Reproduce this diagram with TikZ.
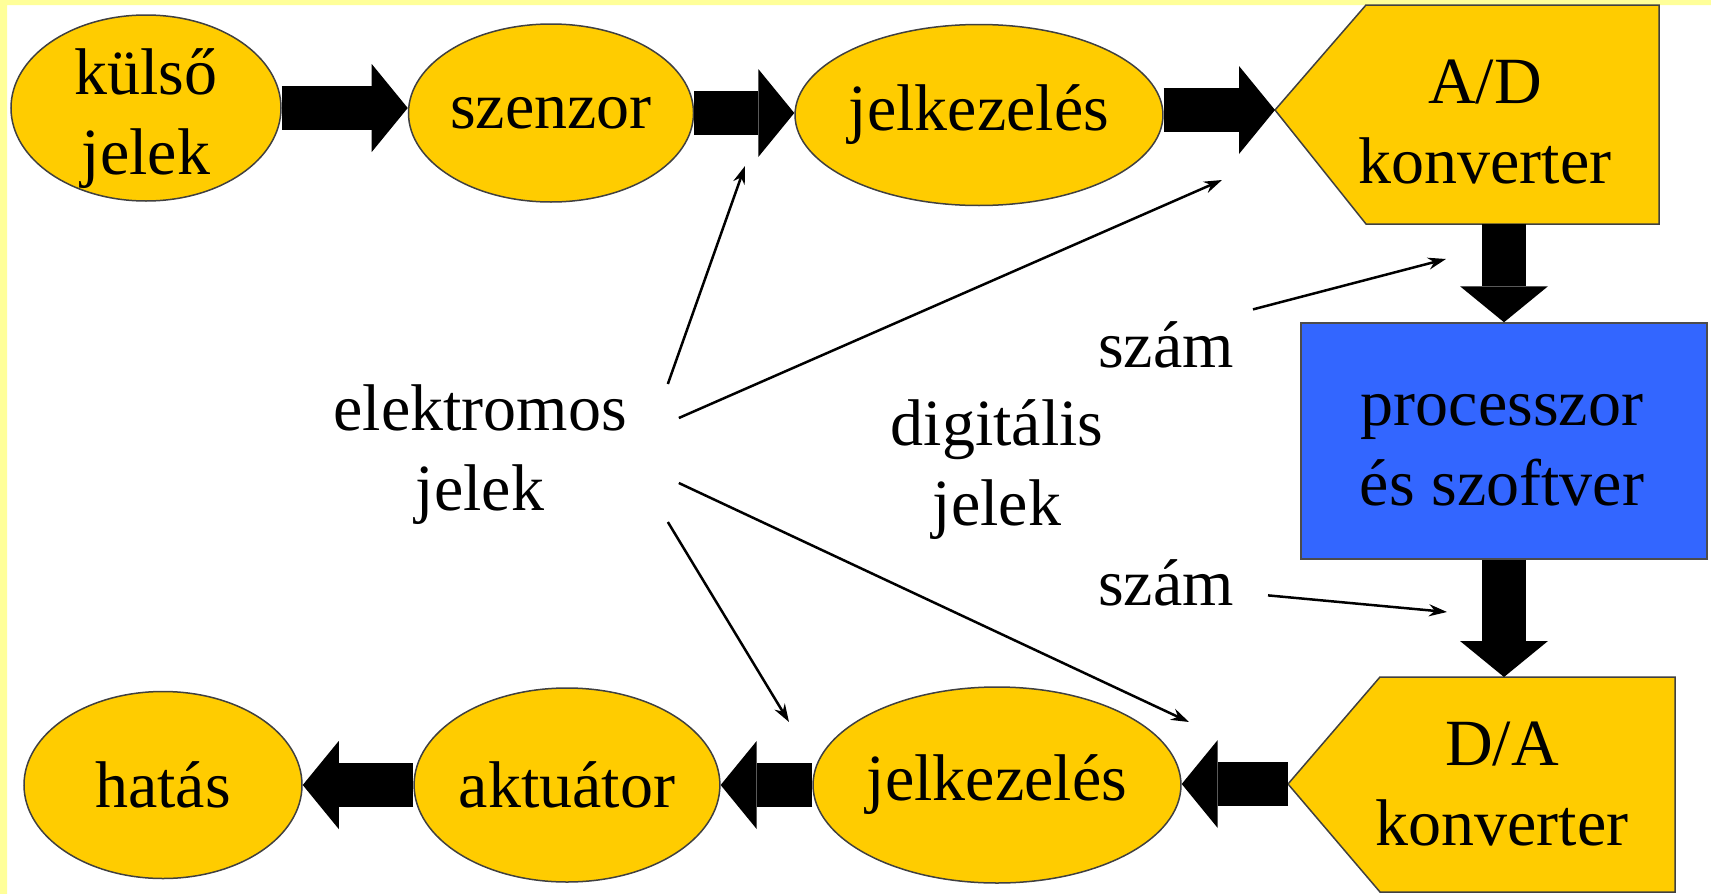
\documentclass[tikz,border=0pt]{standalone}
\usepackage{fontspec}
\setmainfont{Liberation Serif}
\usepackage{xcolor}
\usepackage{tikz}
\usetikzlibrary{arrows.meta,shapes.geometric}
\definecolor{gold}{HTML}{FFCC00}
\definecolor{procblue}{HTML}{3366FF}
\definecolor{frameyellow}{HTML}{FFFF99}

\begin{document}
\begin{tikzpicture}[x=1pt,y=-1pt,
  every node/.style={font=\fontsize{66}{80}\selectfont},
  blob/.style={ellipse,draw=black!75,line width=1.5pt,fill=gold,inner sep=0pt,align=center},
  conv/.style={draw=black!75,line width=1.5pt,fill=gold},
  txt/.style={inner sep=0pt,align=center},
  fat/.style={line width=44pt,-{Triangle[length=36pt,width=88pt,line width=0pt]}},
  thin/.style={line width=2.5pt,-{Stealth[length=18pt,width=12pt]}}]
  \useasboundingbox (0,0) rectangle (1711,894);
  \fill[white] (0,0) rectangle (1711,894);
  \fill[frameyellow] (0,0) rectangle (7,894) (0,0) rectangle (1711,5);

  % converters
  \draw[conv] (1275,110) -- (1366,5) -- (1659,5) -- (1659,224) -- (1366,224) -- cycle;
  \draw[conv] (1288,784) -- (1380,677) -- (1675,677) -- (1675,892) -- (1380,892) -- cycle;
  \coordinate (adtip) at (1275,110); \coordinate (adbot) at (1504,224);
  \coordinate (datip) at (1288,784); \coordinate (datop) at (1504,677);
  \node[txt] (ad) at (1485,122) {A/D\\konverter};
  \node[txt] (da) at (1502,784) {D/A\\konverter};
  \node[rectangle,draw=black!70,line width=1.5pt,fill=procblue,
    minimum width=406pt,minimum height=236pt] (proc) at (1504,441) {};
  \node[txt] (proctxt) at (1502,450) {processzor\\és szoftver};

  % input chain
  \node[blob,minimum width=270pt,minimum height=186pt] (kulso) at (146,108) {};
  \node[txt] (kulsotxt) at (146,119) {külső\\jelek};
  \node[blob,minimum width=260pt,minimum height=178pt] (szenzor) at (551,113) {szenzor};
  \node[blob,minimum width=322pt,minimum height=181pt] (jelk1) at (979,115) {jelkezelés};

  % output chain
  \node[blob,minimum width=278pt,minimum height=187pt] (hatas) at (163,785) {hatás};
  \node[blob,minimum width=256pt,minimum height=194pt] (aktuator) at (567,785) {aktuátor};
  \node[blob,minimum width=320pt,minimum height=196pt] (jelk2) at (997,785) {jelkezelés};

  \draw[fat] (kulso.east) -- (kulso.east -| szenzor.west);
  \draw[fat] (szenzor.east) -- (szenzor.east -| jelk1.west);
  \draw[fat] (jelk1.east |- adtip) -- (adtip);
  \draw[fat] (adbot) -- (proc.north);
  \draw[fat] (proc.south) -- (datop);
  \draw[fat] (datip) -- (datip -| jelk2.east);
  \draw[fat] (jelk2.west) -- (aktuator.east);
  \draw[fat] (aktuator.west) -- (hatas.east);

  % labels
  \node[txt] (elek) at (480,455) {elektromos\\jelek};
  \node[txt] (digit) at (997,470) {digitális\\jelek};
  \node[txt,anchor=base] (szam1) at (1166,367) {szám};
  \node[txt,anchor=base] (szam2) at (1166,605) {szám};

  \coordinate (u1) at (745,166); \coordinate (u2) at (1222,180);
  \coordinate (d1) at (789,722); \coordinate (d2) at (1189,722);
  \coordinate (n1) at (1446,259); \coordinate (n2) at (1447,612);
  \draw[thin] ([shift={(41,-71)}]elek.east) -- (u1);
  \draw[thin] ([shift={(52,-37)}]elek.east) -- (u2);
  \draw[thin] ([shift={(52,28)}]elek.east) -- (d2);
  \draw[thin] ([shift={(41,67)}]elek.east) -- (d1);
  \draw[thin] ([shift={(19,-35)}]szam1.east) -- (n1);
  \draw[thin] ([shift={(34,13)}]szam2.east) -- (n2);
\end{tikzpicture}
\end{document}
